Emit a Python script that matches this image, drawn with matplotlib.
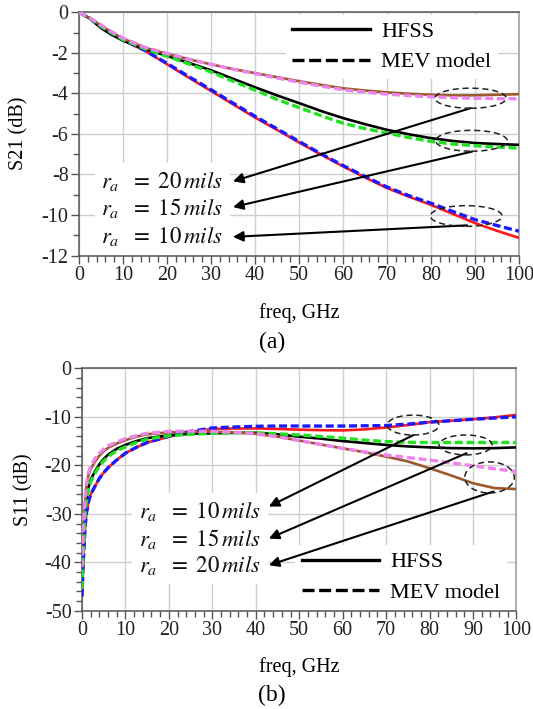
import matplotlib
matplotlib.use("Agg")
import matplotlib.pyplot as plt
from matplotlib.ticker import MultipleLocator
from matplotlib.patches import Ellipse
from matplotlib.lines import Line2D

# ---------------- data: S21 (top) ----------------
freq_a = [0, 2.5, 5, 7.5, 10, 15, 20, 25, 30, 35, 40, 45, 50, 55, 60, 65, 70, 75, 80, 85, 90, 95, 100]
s21_hfss_10 = [0, -0.3, -0.72, -1.05, -1.38, -1.9, -2.56, -3.23, -3.88, -4.54, -5.19, -5.8, -6.42, -7.02, -7.6, -8.15, -8.67, -9.1, -9.5, -9.95, -10.4, -10.78, -11.13]
s21_mev_10 = [0, -0.3, -0.7, -1.03, -1.36, -1.88, -2.52, -3.18, -3.82, -4.48, -5.13, -5.75, -6.37, -6.98, -7.56, -8.1, -8.62, -9.05, -9.42, -9.83, -10.23, -10.52, -10.8]
s21_hfss_15 = [0, -0.32, -0.78, -1.12, -1.4, -1.82, -2.15, -2.5, -2.86, -3.28, -3.7, -4.1, -4.48, -4.87, -5.22, -5.52, -5.8, -6.02, -6.21, -6.35, -6.45, -6.5, -6.54]
s21_mev_15 = [0, -0.3, -0.7, -1.03, -1.35, -1.8, -2.17, -2.55, -2.95, -3.4, -3.84, -4.3, -4.7, -5.1, -5.47, -5.74, -5.96, -6.18, -6.37, -6.5, -6.58, -6.65, -6.7]
s21_hfss_20 = [0, -0.3, -0.65, -1.0, -1.3, -1.75, -2.05, -2.32, -2.57, -2.8, -3.0, -3.2, -3.4, -3.58, -3.75, -3.86, -3.95, -4.02, -4.07, -4.1, -4.1, -4.07, -4.04]
s21_mev_20 = [0, -0.28, -0.62, -0.97, -1.27, -1.73, -2.03, -2.31, -2.57, -2.81, -3.03, -3.24, -3.45, -3.64, -3.82, -3.94, -4.04, -4.11, -4.17, -4.21, -4.24, -4.26, -4.27]

# ---------------- data: S11 (bottom) ----------------
freq_b = [0, 0.3, 0.7, 1, 1.5, 2, 3, 4, 5, 6, 8, 10, 12.5, 15, 20, 25, 30, 35, 40, 45, 50, 55, 60, 65, 70, 75, 80, 85, 90, 95, 100]
s11_hfss_10 = [-47, -40, -33, -30, -27.5, -26, -24.3, -22.7, -21.5, -20.5, -18.9, -17.5, -16.3, -15.3, -14.1, -13.1, -12.5, -12.4, -12.4, -12.5, -12.65, -12.75, -12.8, -12.6, -12.2, -11.7, -11.1, -10.8, -10.5, -10.1, -9.6]
s11_mev_10 = [-47, -40, -33, -30, -27.5, -26, -24.3, -22.7, -21.5, -20.5, -18.9, -17.5, -16.3, -15.3, -14.0, -13.0, -12.3, -12.1, -11.95, -11.9, -11.9, -11.9, -11.9, -11.85, -11.8, -11.5, -11.1, -10.8, -10.5, -10.25, -10.0]
s11_hfss_15 = [-45, -37, -30, -27, -24.5, -23, -21.2, -19.8, -18.7, -17.8, -16.6, -15.8, -15.0, -14.4, -13.8, -13.5, -13.4, -13.3, -13.3, -13.6, -14.1, -14.5, -15.0, -15.4, -15.8, -16.1, -16.3, -16.45, -16.5, -16.45, -16.3]
s11_mev_15 = [-45.5, -37.5, -30.5, -27.5, -25, -23.4, -21.6, -20.2, -19.1, -18.2, -17.0, -16.2, -15.3, -14.6, -13.9, -13.6, -13.4, -13.3, -13.3, -13.5, -13.75, -14.05, -14.4, -14.8, -15.1, -15.25, -15.3, -15.3, -15.3, -15.3, -15.3]
s11_hfss_20 = [-43, -34, -28, -24.5, -22, -20.8, -19.2, -18, -17.1, -16.4, -15.5, -14.8, -14.1, -13.6, -13.2, -13.1, -13.1, -13.2, -13.5, -14.1, -14.9, -15.7, -16.5, -17.3, -18.2, -19.2, -20.6, -22.1, -23.7, -24.7, -24.9]
s11_mev_20 = [-41, -33, -27, -24, -21.5, -20.2, -18.6, -17.5, -16.7, -16.0, -15.2, -14.5, -13.9, -13.4, -13.0, -12.95, -13.0, -13.15, -13.5, -14.1, -14.9, -15.7, -16.5, -17.2, -17.9, -18.4, -18.9, -19.5, -20.1, -20.7, -21.3]

radius_labels = ["10", "15", "20"]
legend_labels = ["HFSS", "MEV model"]

# ---------------- style ----------------
plt.rcParams["font.family"] = ["Liberation Serif", "DejaVu Serif"]
plt.rcParams["mathtext.fontset"] = "stix"
plt.rcParams["axes.unicode_minus"] = False

C_RED, C_BLUE = "#ff1a1a", "#1a1aff"
C_BLACK, C_GREEN = "#000000", "#22e022"
C_BROWN, C_VIOLET = "#9c5a2c", "#ee82ee"
LW_SOLID, LW_DASH = 1.9, 2.4
DASH = (2.4, 1.1)

fig = plt.figure(figsize=(5.33, 7.09), dpi=100)
ax1 = fig.add_axes([0.1482, 0.6396, 0.8255, 0.3431])
ax2 = fig.add_axes([0.1538, 0.1385, 0.8152, 0.3420])


def style_axes(ax, ymin, ymax, ymaj, ymin_step):
    ax.set_xlim(0, 100)
    ax.set_ylim(ymin, ymax)
    ax.xaxis.set_major_locator(MultipleLocator(10))
    ax.xaxis.set_minor_locator(MultipleLocator(2))
    ax.yaxis.set_major_locator(MultipleLocator(ymaj))
    ax.yaxis.set_minor_locator(MultipleLocator(ymin_step))
    ax.grid(True, which="major", color="#cfcfcf", lw=1.0, zorder=0)
    ax.set_axisbelow(True)
    ax.tick_params(which="major", direction="out", length=6, width=1.0, color="#555555",
                   labelsize=14.5, labelcolor="#222222", pad=1.5)
    ax.tick_params(which="minor", direction="out", length=4.5, width=1.0, color="#555555")
    for side in ["left", "bottom", "top"]:
        ax.spines[side].set_color("#555555")
        ax.spines[side].set_linewidth(1.1)
    ax.spines["right"].set_color("#999999")
    ax.spines["right"].set_linewidth(1.1)


def legend(ax, anchor, loc):
    handles = [Line2D([], [], color="k", lw=2.4),
               Line2D([], [], color="k", lw=2.4, ls=(0, (3.6, 1.4)))]
    lg = ax.legend(handles, legend_labels, loc=loc, bbox_to_anchor=anchor, fontsize=16,
                   handlelength=3.5, handletextpad=0.5, labelspacing=0.45, borderpad=0.3,
                   borderaxespad=0, frameon=True, fancybox=False, framealpha=1)
    lg.get_frame().set_edgecolor("none")
    lg.get_frame().set_facecolor("white")
    lg.set_zorder(2.5)  # above the grid, below the curves


def annotate(ax, texts, text_pos, heads, tails, ellipses):
    labels = [r"$r_a\ \ =\ %s\,mils$" % lab for lab in texts]
    # white backgrounds first, so that no box hides the line above it
    for lab, (tx, ty) in zip(labels, text_pos):
        ax.text(tx, ty, lab, fontsize=16.5, ha="left", va="center", zorder=2.6,
                color="none", bbox=dict(fc="white", ec="none", pad=5))
    for lab, (tx, ty), head, tail in zip(labels, text_pos, heads, tails):
        ax.text(tx, ty, lab, fontsize=16.5, ha="left", va="center", zorder=4, color="#111111")
        ax.annotate("", xy=head, xytext=tail, zorder=6,
                    arrowprops=dict(arrowstyle="-|>", color="k", lw=1.5,
                                    mutation_scale=15, shrinkA=0, shrinkB=0))
    for (cx, cy, w, h) in ellipses:
        ax.add_patch(Ellipse((cx, cy), w, h, fill=False, ec="#222222", lw=1.1,
                             ls=(0, (4, 2.5)), zorder=6))


# ---------------- top: S21 ----------------
style_axes(ax1, -12, 0, 2, 1)
ax1.plot(freq_a, s21_hfss_10, color=C_RED, lw=LW_SOLID, zorder=3)
ax1.plot(freq_a, s21_hfss_15, color=C_BLACK, lw=LW_SOLID, zorder=3)
ax1.plot(freq_a, s21_hfss_20, color=C_BROWN, lw=LW_SOLID, zorder=3)
ax1.plot(freq_a, s21_mev_10, color=C_BLUE, lw=LW_DASH, ls=(0, DASH), zorder=3.5)
ax1.plot(freq_a, s21_mev_15, color=C_GREEN, lw=LW_DASH, ls=(0, DASH), zorder=3.5)
ax1.plot(freq_a, s21_mev_20, color=C_VIOLET, lw=LW_DASH, ls=(0, DASH), zorder=3.5)
ax1.set_xlabel("freq, GHz", fontsize=14.5)
ax1.set_ylabel("S21 (dB)", fontsize=14.5)
ax1.xaxis.set_label_coords(0.5, -0.236)
ax1.xaxis.label.set_va("center")
ax1.yaxis.set_label_coords(-0.137, 0.504)
ax1.yaxis.label.set_va("center")
legend(ax1, (0.47, 0.99), "upper left")
annotate(ax1, ["20", "15", "10"],
         [(5.1, -8.34), (5.1, -9.66), (5.1, -11.08)],
         [(35.0, -8.34), (35.0, -9.61), (35.0, -11.08)],
         [(89.0, -4.73), (89.4, -6.87), (88.2, -10.51)],
         [(89.0, -4.24, 16.2, 0.99), (89.2, -6.34, 16.3, 1.03), (88.0, -10.05, 16.3, 1.02)])

# ---------------- bottom: S11 ----------------
style_axes(ax2, -50, 0, 10, 2)
ax2.plot(freq_b, s11_hfss_10, color=C_RED, lw=LW_SOLID, zorder=3)
ax2.plot(freq_b, s11_hfss_15, color=C_BLACK, lw=LW_SOLID, zorder=3)
ax2.plot(freq_b, s11_hfss_20, color=C_BROWN, lw=LW_SOLID, zorder=3)
ax2.plot(freq_b, s11_mev_10, color=C_BLUE, lw=LW_DASH, ls=(0, DASH), zorder=3.5)
ax2.plot(freq_b, s11_mev_15, color=C_GREEN, lw=LW_DASH, ls=(0, DASH), zorder=3.5)
ax2.plot(freq_b, s11_mev_20, color=C_VIOLET, lw=LW_DASH, ls=(0, DASH), zorder=3.5)
ax2.set_xlabel("freq, GHz", fontsize=14.5)
ax2.set_ylabel("S11 (dB)", fontsize=14.5)
ax2.xaxis.set_label_coords(0.5, -0.232)
ax2.xaxis.label.set_va("center")
ax2.yaxis.set_label_coords(-0.134, 0.498)
ax2.yaxis.label.set_va("center")
legend(ax2, (0.49, 0.005), "lower left")
annotate(ax2, ["10", "15", "20"],
         [(13.2, -29.6), (13.2, -35.2), (13.2, -40.7)],
         [(43.0, -28.5), (43.0, -35.1), (43.0, -40.6)],
         [(76.3, -13.75), (88.5, -17.5), (94.7, -25.4)],
         [(76.2, -11.7, 11.9, 4.1), (88.3, -15.8, 12.2, 4.1), (93.8, -22.5, 11.4, 6.4)])

fig.text(272 / 533, 1 - 342 / 709, "(a)", fontsize=17, ha="center", va="center")
fig.text(272 / 533, 1 - 695 / 709, "(b)", fontsize=17, ha="center", va="center")

fig.savefig("out.png", dpi=100)
